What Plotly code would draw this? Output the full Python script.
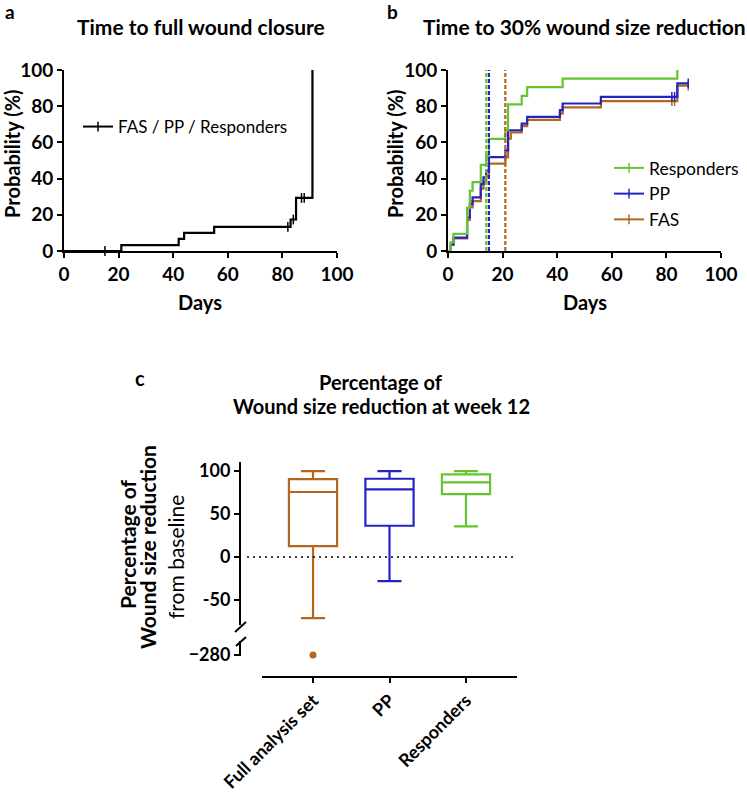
import plotly.graph_objects as go

# ---------------- data ----------------
# Panel a: time to full wound closure (KM steps)
close_days = [0, 21, 42, 44, 55, 83, 85, 91]
close_prob = [0, 3.3, 6.7, 10.0, 13.3, 17.4, 29.3, 100]
close_cens_days = [15, 82, 84, 87, 88]
close_cens_prob = [0, 13.3, 17.4, 29.3, 29.3]

# Panel b: time to 30% wound size reduction (KM steps)
resp_days = [0, 1, 2, 7, 8, 9, 12, 14, 15, 21, 22, 27, 29, 42, 84]
resp_prob = [0, 4.8, 9.5, 23.8, 33.3, 38.1, 47.6, 52.4, 61.9, 66.7, 81.0, 85.7, 90.5, 95.2, 100]

pp_days = [0, 1, 2, 7, 8, 9, 12, 13, 14, 15, 21, 22, 27, 29, 41, 42, 56, 84, 88]
pp_prob = [0, 3.7, 7.4, 18.5, 25.9, 29.6, 37.0, 40.7, 44.4, 51.9, 55.6, 66.7, 70.4, 74.1, 77.8, 81.5, 85.2, 92.6, 92.6]
pp_cens_days = [82, 83, 88]
pp_cens_prob = [85.2, 85.2, 92.6]

fas_days = [0, 1, 2, 7, 8, 9, 12, 13, 14, 15, 21, 22, 23, 27, 29, 41, 42, 56, 84, 88]
fas_prob = [0, 3.4, 6.9, 17.2, 24.1, 27.6, 34.5, 37.9, 41.4, 48.3, 51.7, 62.1, 65.5, 69.0, 72.4, 75.9, 79.3, 82.8, 91.4, 91.4]
fas_cens_days = [82, 83, 88]
fas_cens_prob = [82.8, 82.8, 91.4]

median_names = ["Responders", "PP", "FAS"]
median_days = [14, 15, 21]

# Panel c: box statistics of % wound size reduction at week 12
groups = ["Full analysis set", "PP", "Responders"]
q1 = [12.8, 36.4, 73.2]
med = [75.6, 78.7, 86.8]
q3 = [90.7, 91.0, 96.0]
low = [-71.0, -28.0, 35.7]
high = [100.0, 100.0, 100.0]
outlier_group = ["Full analysis set"]
outlier_val = [-280]

c_upper_ticks = [100, 50, 0, -50]
c_upper_text = ["100", "50", "0", "-50"]
c_lower_ticks = [-280]
c_lower_text = ["\u2212280"]

# ---------------- style ----------------
W, H = 747, 795
GREEN = "#66C42E"
BLUE = "#2424C6"
BROWN = "#B4661F"
FONT = "Lato"


def px(x):
    return x / W


def py(y):
    return 1 - y / H


fig = go.Figure()

# Panel a
fig.add_trace(go.Scatter(x=close_days, y=close_prob, mode="lines", line=dict(color="black", width=2.2, shape="hv"),
                         xaxis="x", yaxis="y", showlegend=False))
fig.add_trace(go.Scatter(x=close_cens_days, y=close_cens_prob, mode="markers",
                         marker=dict(symbol="line-ns", size=7, line=dict(color="black", width=1.5)),
                         xaxis="x", yaxis="y", showlegend=False, cliponaxis=False))
fig.add_trace(go.Scatter(x=[None], y=[None], mode="lines+markers", name="FAS / PP / Responders",
                         line=dict(color="black", width=2),
                         marker=dict(symbol="line-ns", size=7, line=dict(color="black", width=1.5)),
                         xaxis="x", yaxis="y", legend="legend"))

# Panel b
series = [("FAS", fas_days, fas_prob, fas_cens_days, fas_cens_prob, BROWN),
          ("PP", pp_days, pp_prob, pp_cens_days, pp_cens_prob, BLUE),
          ("Responders", resp_days, resp_prob, [], [], GREEN)]
for name, d, p, cd, cp, col in series:
    fig.add_trace(go.Scatter(x=d, y=p, mode="lines", line=dict(color=col, width=2.2, shape="hv"),
                             xaxis="x2", yaxis="y2", showlegend=False))
    if cd:
        fig.add_trace(go.Scatter(x=cd, y=cp, mode="markers",
                                 marker=dict(symbol="line-ns", size=7, line=dict(color=col, width=1.5)),
                                 xaxis="x2", yaxis="y2", showlegend=False, cliponaxis=False))

colmap = {"Responders": GREEN, "PP": BLUE, "FAS": BROWN}
for name, day in zip(median_names, median_days):
    fig.add_trace(go.Scatter(x=[day, day], y=[0, 100], mode="lines",
                             line=dict(color=colmap[name], width=2.2, dash="4px,2px"),
                             xaxis="x2", yaxis="y2", showlegend=False))

for name in ["Responders", "PP", "FAS"]:
    fig.add_trace(go.Scatter(x=[None], y=[None], mode="lines+markers", name=name,
                             line=dict(color=colmap[name], width=2),
                             marker=dict(symbol="line-ns", size=7, line=dict(color=colmap[name], width=1.5)),
                             xaxis="x2", yaxis="y2", legend="legend2"))

# Panel c
box_cols = [BROWN, BLUE, GREEN]
for i, g in enumerate(groups):
    fig.add_trace(go.Box(x=[g], q1=[q1[i]], median=[med[i]], q3=[q3[i]],
                         lowerfence=[low[i]], upperfence=[high[i]],
                         width=0.63, whiskerwidth=0.5, boxpoints=False,
                         line=dict(color=box_cols[i], width=2.2), fillcolor="rgba(0,0,0,0)",
                         xaxis="x3", yaxis="y3", showlegend=False, hoverinfo="skip"))
fig.add_trace(go.Scatter(x=outlier_group, y=outlier_val, mode="markers",
                         marker=dict(color=BROWN, size=7), cliponaxis=False,
                         xaxis="x3", yaxis="y4", showlegend=False))

axis_common = dict(showline=True, linecolor="black", linewidth=2, ticks="outside", ticklen=5,
                   tickwidth=2, tickcolor="black", showgrid=False, zeroline=False, automargin=False,
                   tickfont=dict(family=FONT, size=19, color="black", weight="bold"))
c_tickfont = dict(family=FONT, size=18, color="black", weight="bold")

fig.update_layout(
    template="none",
    width=W, height=H, margin=dict(l=0, r=0, t=0, b=0, pad=0),
    paper_bgcolor="white", plot_bgcolor="white",
    font=dict(family=FONT, color="black"),
    boxmode="overlay",
    xaxis=dict(domain=[px(64), px(337)], range=[0, 100], tickvals=[0, 20, 40, 60, 80, 100], anchor="y", **axis_common),
    yaxis=dict(domain=[py(251), py(70)], range=[0, 100], tickvals=[0, 20, 40, 60, 80, 100], anchor="x", **axis_common),
    xaxis2=dict(domain=[px(448), px(721)], range=[0, 100], tickvals=[0, 20, 40, 60, 80, 100], anchor="y2", **axis_common),
    yaxis2=dict(domain=[py(251), py(70)], range=[0, 100], tickvals=[0, 20, 40, 60, 80, 100], anchor="x2", **axis_common),
    xaxis3=dict(domain=[px(262), px(517)], range=[-0.667, 2.667], type="category", categoryorder="array",
                categoryarray=groups, anchor="free", position=py(677), tickangle=-45,
                **{**axis_common, "tickfont": c_tickfont}),
    yaxis3=dict(domain=[py(625), py(462)], range=[-79, 110.5], tickvals=c_upper_ticks, ticktext=c_upper_text,
                anchor="free", position=px(240), **{**axis_common, "tickfont": c_tickfont}),
    yaxis4=dict(domain=[py(656), py(641)], range=[-281.2, -263.7], tickvals=c_lower_ticks, ticktext=c_lower_text,
                anchor="free", position=px(240), **{**axis_common, "tickfont": c_tickfont}),
    legend=dict(x=px(78), y=py(127), xanchor="left", yanchor="middle", bgcolor="rgba(0,0,0,0)",
                font=dict(family=FONT, size=17, color="black")),
    legend2=dict(x=px(609), y=py(194), xanchor="left", yanchor="middle", bgcolor="rgba(0,0,0,0)",
                 font=dict(family=FONT, size=17.5, color="black"), tracegroupgap=0),
)

# zero reference line and axis break marks
fig.add_shape(type="line", xref="paper", yref="y3", x0=px(247), x1=px(517), y0=0, y1=0,
              line=dict(color="black", width=1.6, dash="2px,4px"))
fig.add_shape(type="line", xref="paper", yref="paper", x0=px(235), y0=py(632), x1=px(246), y1=py(622),
              line=dict(color="black", width=2))
fig.add_shape(type="line", xref="paper", yref="paper", x0=px(236), y0=py(646), x1=px(246), y1=py(637),
              line=dict(color="black", width=2))

ann = []


def text(x, y, s, size, bold=True, angle=0, yanchor="middle"):
    ann.append(dict(x=px(x), y=py(y), xref="paper", yref="paper", text=s, showarrow=False,
                    textangle=angle, xanchor="center", yanchor=yanchor,
                    font=dict(family=FONT, size=size, color="black", weight="bold" if bold else "normal")))


text(10, -2, "a", 19, yanchor="top")
text(392, -2, "b", 19, yanchor="top")
text(140, 378, "c", 20)
text(201, 27, "Time to full wound closure", 21)
text(584, 27, "Time to 30% wound size reduction", 21)
text(381, 382, "Percentage of", 20)
text(381, 406, "Wound size reduction at week 12", 20)
text(12, 154, "Probability (%)", 20, angle=-90)
text(395, 154, "Probability (%)", 20, angle=-90)
text(200, 302, "Days", 20)
text(585, 302, "Days", 20)
text(127, 544, "Percentage of", 21, angle=-90)
text(147, 547, "Wound size reduction", 21, angle=-90)
text(175, 557, "from baseline", 21, bold=False, angle=-90)
fig.update_layout(annotations=ann)

fig.write_html("out.html", post_script="document.body.style.margin='0';",
               config={"displayModeBar": False})
